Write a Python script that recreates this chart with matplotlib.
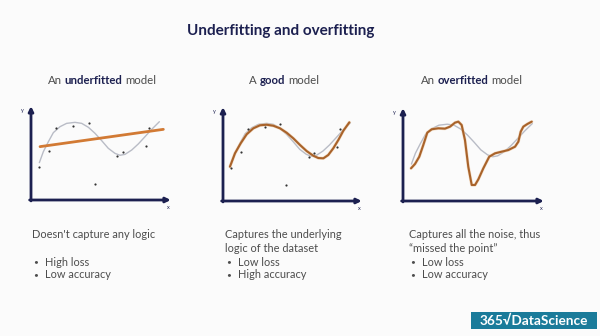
"""
Underfitting vs overfitting slide, redrawn with matplotlib.
Three small sketch panels sharing one noisy dataset.
"""

import matplotlib.pyplot as plt
from matplotlib.patches import FancyBboxPatch

# =============================================================================
# Data (panel units: x 0..10 along the x arrow, y 0..10 up the y arrow)
# =============================================================================

# noisy sample points (same set in every panel)
PTS_X = [0.6, 1.3, 1.85, 3.1, 4.2, 4.65, 6.3, 6.7, 8.4, 8.6]
PTS_Y = [3.6, 5.3, 7.8, 8.0, 8.4, 1.7, 4.8, 5.2, 5.9, 7.8]

# underlying "true" curve (grey)
TRUE_X = [0.61, 0.90, 1.27, 1.63, 2.12, 2.60, 3.21, 3.70, 4.19, 4.67,
          5.16, 5.64, 6.13, 6.50, 6.86, 7.35, 7.83, 8.32, 8.81, 9.37]
TRUE_Y = [4.06, 5.25, 6.34, 7.32, 7.97, 8.33, 8.44, 8.33, 7.90, 7.25,
          6.45, 5.62, 5.07, 4.86, 4.96, 5.43, 6.09, 6.88, 7.68, 8.51]

# underfit: straight line
UNDER_X = [0.66, 9.66]
UNDER_Y = [5.80, 7.68]

# good fit
GOOD_X = [0.51, 0.88, 1.30, 1.74, 2.23, 2.72, 3.21, 3.70, 4.19, 4.68, 5.17,
          5.66, 6.15, 6.64, 7.01, 7.38, 7.74, 8.11, 8.48, 8.85, 9.29]
GOOD_Y = [3.73, 5.18, 6.27, 7.25, 7.90, 8.23, 8.29, 8.18, 7.90, 7.42, 6.81,
          6.09, 5.43, 4.92, 4.67, 4.64, 5.00, 5.73, 6.63, 7.64, 8.55]

# overfit: wiggles through every point
OVER_X = [0.58, 0.87, 1.18, 1.47, 1.76, 2.08, 2.56, 3.04, 3.41, 3.77, 4.01,
          4.25, 4.49, 4.73, 4.98, 5.22, 5.46, 5.82, 6.25, 6.67, 7.15, 7.63,
          8.12, 8.36, 8.53, 8.72, 9.01, 9.33]
OVER_Y = [3.59, 4.07, 4.87, 6.15, 7.51, 7.88, 7.99, 7.95, 8.17, 8.61, 8.72,
          8.35, 6.70, 3.77, 1.76, 1.76, 2.38, 3.59, 4.87, 5.24, 5.42, 5.60,
          5.97, 6.52, 7.62, 8.17, 8.46, 8.72]

TITLE = "Underfitting and overfitting"
HEADINGS = [("An ", "underfitted", " model"),
            ("A ", "good", " model"),
            ("An ", "overfitted", " model")]
DESCRIPTIONS = [["Doesn't capture any logic", ""],
                ["Captures the underlying", "logic of the dataset"],
                ["Captures all the noise, thus", "\u201cmissed the point\u201d"]]
BULLETS = [["High loss", "Low accuracy"],
           ["Low loss", "High accuracy"],
           ["Low loss", "Low accuracy"]]

# =============================================================================
# Style
# =============================================================================

W, H = 600, 336
NAVY = "#1c2050"
GREY_TXT = "#4d4d4d"
TRUE_C = "#b9bcc6"
UNDER_C = "#d27a34"
FIT_C = "#a8622a"
TEAL = "#1a7b9a"
FONT = ["Lato", "DejaVu Sans"]

# panel frames in pixels: (x of y axis, y of x axis, arrow length x, arrow length y)
PANELS = [(31, 200, 137, 92), (223, 201, 136, 92), (403, 201, 138, 91)]
TEXT_X = [32, 225, 409]
HEAD_X = [48, 249, 421]
BODY_FS = 7.9


def fx(px):
    return px / W


def fy(py):
    return 1 - py / H


def _panel(fig, frame):
    x0, y0, w, h = frame
    ax = fig.add_axes([fx(x0), fy(y0), w / W, h / H])
    ax.set_xlim(0, 10)
    ax.set_ylim(0, 10)
    ax.axis("off")
    arrow = dict(arrowstyle="-|>", color=NAVY, lw=2.0, mutation_scale=7,
                 shrinkA=0, shrinkB=0)
    ax.annotate("", xy=(10.2, 0), xytext=(-0.1, 0), arrowprops=arrow,
                annotation_clip=False)
    ax.annotate("", xy=(0, 10.2), xytext=(0, -0.1), arrowprops=arrow,
                annotation_clip=False)
    ax.text(10.0, -0.8, "x", fontsize=4, color=NAVY, ha="center", va="center",
            family=FONT)
    ax.text(-0.6, 9.7, "y", fontsize=4, color=NAVY, ha="center", va="center",
            family=FONT)
    return ax


def _heading(fig, x, parts):
    pre, bold, post = parts
    base = fy(84)
    t1 = fig.text(fx(x), base, pre.strip(), fontsize=8.2, color=GREY_TXT,
                  family=FONT, va="baseline")
    t2 = fig.text(0, 0, bold, fontsize=8.2, color=NAVY, weight="bold",
                  family=FONT, va="baseline")
    t3 = fig.text(0, 0, post.strip(), fontsize=8.2, color=GREY_TXT,
                  family=FONT, va="baseline")
    # chain the pieces one after another
    fig.canvas.draw()
    r = fig.canvas.get_renderer()
    gap = 2.8 / W
    b1 = t1.get_window_extent(r)
    t2.set_position((b1.x1 / fig.bbox.width + gap, base))
    b2 = t2.get_window_extent(r)
    t3.set_position((b2.x1 / fig.bbox.width + gap, base))


def main():
    fig = plt.figure(figsize=(6, 3.36), dpi=100)
    fig.patch.set_facecolor("#fbfbfb")

    fig.text(fx(281), fy(31), TITLE, fontsize=11, weight="bold", color=NAVY,
             ha="center", va="center", family=FONT)

    fits = [(UNDER_X, UNDER_Y, UNDER_C, 2.0), (GOOD_X, GOOD_Y, FIT_C, 1.5),
            (OVER_X, OVER_Y, FIT_C, 1.5)]
    for i, frame in enumerate(PANELS):
        ax = _panel(fig, frame)
        ax.plot(TRUE_X, TRUE_Y, color=TRUE_C, lw=1.0, zorder=2,
                solid_capstyle="round")
        fx_, fy_, c, lw = fits[i]
        if i > 0:
            ax.plot(fx_, fy_, color="#eec9a2", lw=lw + 0.8, alpha=0.6, zorder=3,
                    solid_capstyle="round")
        ax.plot(fx_, fy_, color=c, lw=lw, zorder=4, solid_capstyle="round",
                solid_joinstyle="round")
        if i < 2:
            ax.scatter(PTS_X, PTS_Y, s=2.5, color="#333333", zorder=5,
                       linewidths=0)

    for i in range(3):
        _heading(fig, HEAD_X[i], HEADINGS[i])
        x = TEXT_X[i]
        fig.text(fx(x), fy(235), DESCRIPTIONS[i][0], fontsize=BODY_FS,
                 color=GREY_TXT, va="center", family=FONT)
        if DESCRIPTIONS[i][1]:
            fig.text(fx(x), fy(248), DESCRIPTIONS[i][1], fontsize=BODY_FS,
                     color=GREY_TXT, va="center", family=FONT)
        for j, b in enumerate(BULLETS[i]):
            yy = 262 + 13 * j
            fig.text(fx(x + 1), fy(yy), "\u2022", fontsize=6, color=GREY_TXT,
                     va="center", family=FONT)
            fig.text(fx(x + 13), fy(yy), b, fontsize=BODY_FS, color=GREY_TXT,
                     va="center", family=FONT)

    # logo badge
    fig.patches.append(FancyBboxPatch(
        (fx(471), fy(329)), 126 / W, 17 / H, boxstyle="square,pad=0",
        transform=fig.transFigure, facecolor=TEAL, edgecolor="none"))
    fig.text(fx(534), fy(320.5), "365\u221aDataScience", fontsize=9.8,
             weight="bold", color="white", ha="center", va="center",
             family=FONT)

    fig.savefig("out.png", dpi=100, facecolor=fig.get_facecolor())


if __name__ == "__main__":
    main()
